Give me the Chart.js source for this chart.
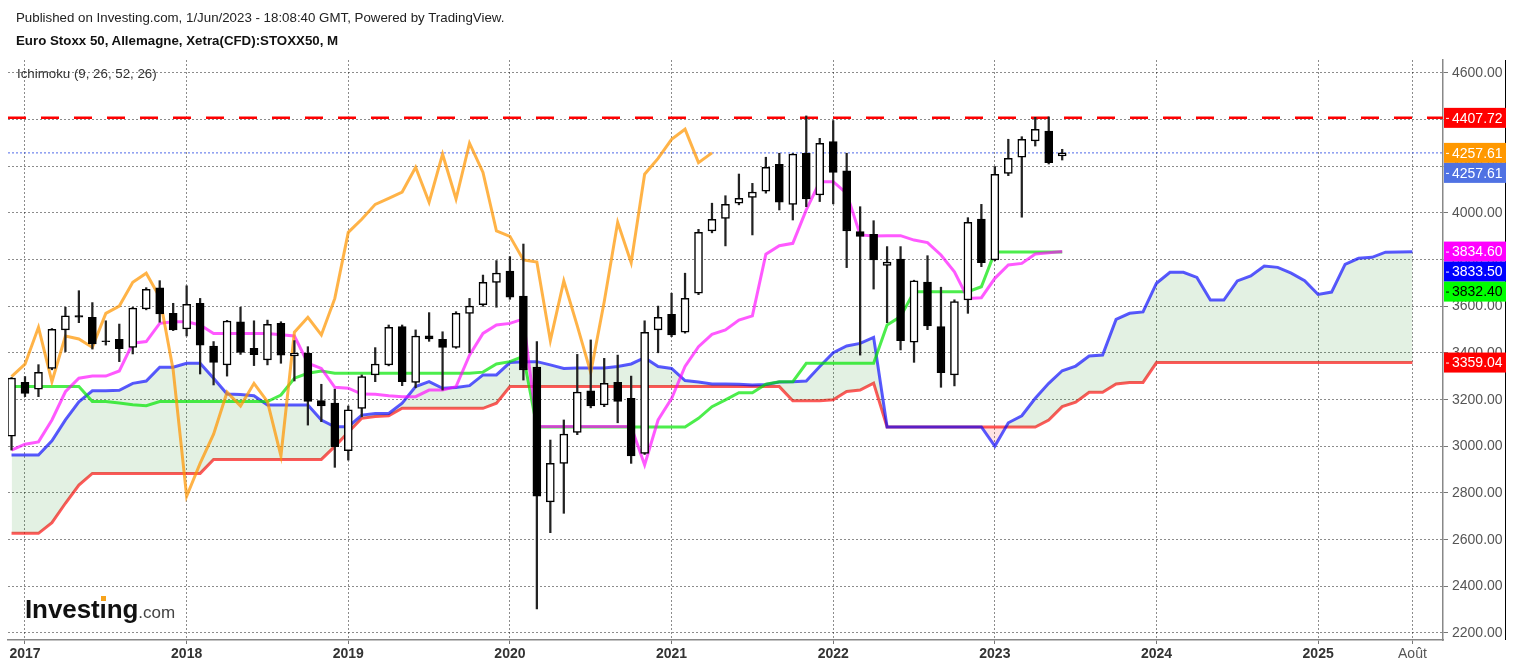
<!DOCTYPE html>
<html>
<head>
<meta charset="utf-8">
<title>Euro Stoxx 50 - Ichimoku</title>
<script src="https://cdn.jsdelivr.net/npm/chart.js@4.4.0/dist/chart.umd.min.js"></script>
<style>
  body { margin: 0; background: #fff; font-family: "Liberation Sans", Arial, sans-serif; }
  #wrap { position: relative; width: 1513px; height: 668px; overflow: hidden; }
  #chart { position: absolute; left: 0; top: 0; }
  .txt { position: absolute; white-space: nowrap; color: #222; line-height: 1; font-size: 13.3px; }
  .logo { position: absolute; left: 25px; top: 596px; white-space: nowrap; color: #111; font-size: 26px; line-height: 1; }
  .logo b { font-size: 26px; letter-spacing: -0.1px; font-weight: bold; }
  .logo .com { font-size: 17px; color: #444; }
  .logo .i { position: relative; }
  .logo .dot { position: absolute; left: 1.5px; top: 2px; width: 4.5px; height: 4.5px; background: #f7a31c; }
</style>
</head>
<body>
<div id="wrap">
  <canvas id="chart" width="1513" height="668"></canvas>
  <div class="txt" style="left:16px;top:11px;">Published on Investing.com, 1/Jun/2023 - 18:08:40 GMT, Powered by TradingView.</div>
  <div class="txt" style="left:16px;top:34px;font-weight:bold;color:#111;">Euro Stoxx 50, Allemagne, Xetra(CFD):STOXX50, M</div>
  <div class="txt" style="left:17px;top:67px;color:#333;">Ichimoku (9, 26, 52, 26)</div>
  <div class="logo"><b>Invest<span class="i">ı<span class="dot"></span></span>ng</b><span class="com">.com</span></div>
</div>
<script>
// monthly candles, Dec 2016 .. Jun 2023 (index 0 = Dec 2016)
const opens = [3044, 3274, 3245, 3334, 3499, 3560, 3553, 3452, 3459, 3424, 3589, 3679,
  3570, 3503, 3613, 3430, 3349, 3534, 3420, 3370, 3527, 3387, 3399, 3196,
  3185, 2981, 3163, 3306, 3349, 3513, 3274, 3474, 3459, 3424, 3570, 3607,
  3703, 3751, 3644, 3340, 2762, 2927, 3060, 3238, 3177, 3274, 3206, 2970,
  3499, 3566, 3489, 3656, 3923, 3977, 4042, 4067, 4094, 4209, 4037, 4256,
  4077, 4306, 4181, 3920, 3909, 3775, 3802, 3446, 3704, 3513, 3306, 3627,
  3974, 3799, 4170, 4239, 4309, 4351, 4245];
const highs = [3295, 3299, 3350, 3505, 3596, 3667, 3616, 3538, 3524, 3596, 3680, 3710,
  3613, 3688, 3634, 3449, 3540, 3596, 3538, 3541, 3534, 3453, 3427, 3266,
  3245, 3173, 3306, 3423, 3520, 3520, 3499, 3573, 3491, 3577, 3634, 3734,
  3796, 3813, 3867, 3449, 3027, 3113, 3394, 3456, 3377, 3391, 3301, 3538,
  3601, 3656, 3742, 3930, 4042, 4074, 4167, 4127, 4239, 4256, 4255, 4416,
  4320, 4396, 4256, 4027, 3967, 3856, 3856, 3712, 3817, 3682, 3628, 3980,
  4037, 4199, 4316, 4327, 4410, 4412, 4273];
const lows = [2984, 3213, 3213, 3328, 3406, 3530, 3417, 3434, 3363, 3396, 3585, 3532,
  3496, 3473, 3310, 3263, 3301, 3394, 3346, 3349, 3356, 3280, 3091, 3106,
  2910, 2941, 3127, 3277, 3345, 3260, 3251, 3450, 3241, 3420, 3401, 3600,
  3596, 3630, 3284, 2303, 2630, 2713, 3050, 3165, 3170, 3101, 2927, 2965,
  3401, 3470, 3485, 3650, 3915, 3859, 4035, 3906, 4085, 4013, 3970, 4027,
  4049, 4039, 3766, 3391, 3674, 3530, 3413, 3360, 3500, 3253, 3259, 3570,
  3770, 3795, 4160, 3982, 4287, 4210, 4227];
const closes = [3292, 3227, 3317, 3501, 3559, 3554, 3439, 3449, 3419, 3592, 3673, 3568,
  3499, 3609, 3434, 3360, 3537, 3402, 3393, 3523, 3391, 3399, 3192, 3173,
  2999, 3156, 3299, 3352, 3510, 3277, 3473, 3460, 3424, 3570, 3601, 3703,
  3742, 3639, 3327, 2786, 2927, 3052, 3232, 3173, 3270, 3192, 2959, 3489,
  3553, 3477, 3634, 3917, 3973, 4037, 4063, 4090, 4196, 4046, 4252, 4060,
  4299, 4174, 3923, 3900, 3799, 3790, 3453, 3709, 3516, 3316, 3620, 3960,
  3787, 4166, 4234, 4316, 4359, 4216, 4257.61];

// Ichimoku lines
const tenkan = [2984, 3009, 3019, 3113, 3234, 3292, 3301, 3301, 3323, 3442, 3449, 3527,
  3534, 3534, 3520, 3484, 3484, 3484, 3484, 3484, 3478, 3473, 3356, 3334,
  3253, 3249, 3224, 3223, 3217, 3213, 3213, 3241, 3241, 3256, 3391, 3484,
  3520, 3527, 3546, 3085, 3085, 3085, 3085, 3085, 3085, 3085, 3085, 2920,
  3113, 3205, 3342, 3427, 3480, 3499, 3541, 3559, 3823, 3860, 3870, 4013,
  4134, 4134, 4084, 3906, 3901, 3903, 3903, 3884, 3873, 3820, 3748, 3634,
  3637, 3720, 3777, 3784, 3824, 3830, 3834.60];
const kijun = [3256, 3256, 3256, 3256, 3256, 3256, 3192, 3192, 3186, 3178, 3174, 3192,
  3192, 3192, 3192, 3192, 3192, 3192, 3192, 3192, 3220, 3292, 3313, 3323,
  3313, 3313, 3313, 3313, 3313, 3313, 3313, 3313, 3313, 3313, 3313, 3318,
  3353, 3363, 3386, 3083, 3083, 3083, 3083, 3083, 3083, 3083, 3083, 3083,
  3083, 3083, 3083, 3120, 3170, 3199, 3230, 3230, 3266, 3277, 3277, 3356,
  3356, 3356, 3356, 3356, 3356, 3520, 3556, 3663, 3663, 3663, 3663, 3663,
  3684, 3832.40, 3832.40, 3832.40, 3832.40, 3832.40, 3832.40];
// leading spans run 26 months past the last candle (to Aug 2025)
const spanA = [2963, 2963, 2963, 3024, 3113, 3191, 3238, 3238, 3240, 3270, 3280, 3339,
  3339, 3356, 3356, 3292, 3224, 3222, 3217, 3177, 3177, 3177, 3177, 3113,
  3084, 3084, 3134, 3141, 3141, 3185, 3256, 3277, 3249, 3252, 3260, 3306,
  3306, 3359, 3363, 3363, 3349, 3334, 3336, 3336, 3336, 3342, 3353, 3380,
  3342, 3334, 3282, 3276, 3267, 3267, 3266, 3263, 3265, 3276, 3277, 3280,
  3342, 3401, 3430, 3441, 3467, 3083, 3083, 3083, 3083, 3083, 3083, 3083,
  3083, 3001, 3101, 3131, 3206, 3270, 3324, 3344, 3387, 3391, 3544, 3570,
  3576, 3699, 3746, 3746, 3724, 3627, 3627, 3709, 3730, 3773, 3767, 3742,
  3710, 3651, 3661, 3780, 3806, 3810, 3832, 3833, 3833.50];
const spanB = [2627, 2627, 2627, 2673, 2756, 2834, 2884, 2884, 2884, 2884, 2884, 2884,
  2884, 2884, 2884, 2944, 2944, 2944, 2944, 2944, 2944, 2944, 2944, 2944,
  3000, 3060, 3120, 3128, 3131, 3163, 3163, 3163, 3163, 3163, 3163, 3163,
  3185, 3256, 3256, 3256, 3256, 3256, 3256, 3256, 3256, 3256, 3256, 3256,
  3256, 3256, 3256, 3256, 3256, 3256, 3256, 3256, 3256, 3256, 3195, 3195,
  3195, 3200, 3235, 3241, 3271, 3083, 3083, 3083, 3083, 3083, 3083, 3083,
  3083, 3083, 3083, 3083, 3083, 3113, 3170, 3189, 3232, 3232, 3267, 3274,
  3274, 3359.04, 3359.04, 3359.04, 3359.04, 3359.04, 3359.04, 3359.04, 3359.04, 3359.04, 3359.04, 3359.04,
  3359.04, 3359.04, 3359.04, 3359.04, 3359.04, 3359.04, 3359.04, 3359.04, 3359.04];
// lagging span = closes drawn 26 months back
const chikou = closes.slice(26);
const resistance = 4407.72;

// x axis: month index, ticks at each January plus August 2025
const tickIdx = [1, 13, 25, 37, 49, 61, 73, 85, 97, 104];
const tickLabels = ['2017', '2018', '2019', '2020', '2021', '2022', '2023', '2024', '2025', 'Août'];
const yTicks = [2200, 2400, 2600, 2800, 3000, 3200, 3400, 3600, 3800, 4000, 4200, 4400, 4600];

const months = [];
for (let k = 0; k < spanA.length; k++) {
  const d = new Date(2016, 11 + k, 1);
  months.push(d.getFullYear() + '-' + String(d.getMonth() + 1).padStart(2, '0'));
}

const pts = arr => arr.map((v, i) => ({ x: i, y: v }));
const xMin = -0.262, xMax = 106.27;

const bodies = opens.map((o, i) => ({ x: i, y: [o, closes[i]] }));
const wicks = opens.map((o, i) => ({ x: i, y: [lows[i], highs[i]] }));
const bodyFill = opens.map((o, i) => closes[i] < o ? '#000' : '#fff');

const last = a => a[a.length - 1];
const tags = [
  { value: resistance, bg: '#ff0000', fg: '#fff' },
  { value: last(chikou), bg: '#ff9800', fg: '#fff' },
  { value: last(closes), bg: '#4f72e3', fg: '#fff' },
  { value: last(tenkan), bg: '#ff00ff', fg: '#fff' },
  { value: last(spanA), bg: '#0000ff', fg: '#fff' },
  { value: last(kijun), bg: '#00ff00', fg: '#000' },
  { value: last(spanB), bg: '#ff0000', fg: '#fff' }
];

const axisTags = {
  id: 'axisTags',
  afterDraw(chart) {
    const { ctx, chartArea, scales: { y } } = chart;
    ctx.save();
    ctx.strokeStyle = '#000';
    ctx.lineWidth = 1;
    ctx.beginPath();
    ctx.moveTo(1505.5, chartArea.top);
    ctx.lineTo(1505.5, chartArea.bottom);
    ctx.stroke();
    ctx.font = '14px "Liberation Sans", Arial, sans-serif';
    ctx.textBaseline = 'middle';
    let prevBottom = -Infinity;
    tags.forEach(t => {
      const top = Math.max(y.getPixelForValue(t.value) - 10, prevBottom);
      ctx.fillStyle = t.bg;
      ctx.fillRect(chartArea.right + 1, top, 62, 20);
      ctx.strokeStyle = t.fg;
      ctx.beginPath();
      ctx.moveTo(chartArea.right + 3, top + 10.5);
      ctx.lineTo(chartArea.right + 6, top + 10.5);
      ctx.stroke();
      ctx.fillStyle = t.fg;
      ctx.fillText(t.value.toFixed(2), chartArea.right + 9, top + 11);
      prevBottom = top + 20;
    });
    ctx.restore();
  }
};

const lineDs = (label, data, color, order) => ({
  type: 'line', label, data, borderColor: color, borderWidth: 3,
  pointRadius: 0, tension: 0, fill: false, order
});

const datasets = [
  { type: 'bar', label: 'body', data: bodies, backgroundColor: bodyFill, borderColor: '#000',
    borderWidth: 1.5, borderSkipped: false, barThickness: 8, grouped: false, order: 0 },
  { type: 'bar', label: 'wick', data: wicks, backgroundColor: '#222', borderWidth: 0,
    barThickness: 1.6, grouped: false, order: 1 },
  lineDs('Chikou', pts(chikou), 'rgba(255,150,0,0.72)', 2),
  lineDs('Tenkan', pts(tenkan), 'rgba(255,0,255,0.65)', 3),
  lineDs('Kijun', pts(kijun), 'rgba(0,230,0,0.7)', 4),
  Object.assign(lineDs('Senkou A', pts(spanA), 'rgba(0,0,255,0.65)', 5),
    { fill: { target: 6, above: 'rgba(0,128,0,0.11)', below: 'rgba(255,0,0,0.11)' } }),
  lineDs('Senkou B', pts(spanB), 'rgba(255,0,0,0.65)', 6),
  { type: 'line', label: 'resistance', data: [{ x: xMin, y: resistance }, { x: xMax, y: resistance }],
    borderColor: '#ff0000', borderWidth: 2.5, borderDash: [18, 15], pointRadius: 0, order: 2 },
  { type: 'line', label: 'last', data: [{ x: xMin, y: last(closes) }, { x: xMax, y: last(closes) }],
    borderColor: 'rgba(60,90,230,0.9)', borderWidth: 1, borderDash: [2, 2], pointRadius: 0, order: 7 }
];

const gridColor = 'rgba(0,0,0,0.45)';

new Chart(document.getElementById('chart'), {
  type: 'line',
  data: { labels: months, datasets },
  options: {
    responsive: false,
    animation: false,
    events: [],
    layout: { padding: { left: 8, top: 60, right: 0, bottom: 0 } },
    plugins: { legend: { display: false }, tooltip: { enabled: false } },
    scales: {
      x: {
        type: 'linear', min: xMin, max: xMax, offset: false,
        afterFit: s => { s.height = 28; },
        afterBuildTicks: s => { s.ticks = tickIdx.map(v => ({ value: v })); },
        grid: { color: gridColor, lineWidth: 1, offset: false, tickLength: 4, tickColor: '#777', tickBorderDash: [] },
        border: { display: true, color: '#888', width: 1.5, dash: [2, 2] },
        ticks: {
          autoSkip: false, maxRotation: 0, padding: 2,
          callback: (v, i) => tickLabels[i],
          font: ctx => ctx.index < 9
            ? { family: '"Liberation Sans", Arial, sans-serif', size: 14, weight: 'bold' }
            : { family: '"Liberation Sans", Arial, sans-serif', size: 14 },
          color: ctx => ctx.index < 9 ? '#333' : '#555'
        }
      },
      y: {
        type: 'linear', position: 'right', min: 2170, max: 4655.7,
        afterFit: s => { s.width = 70; },
        afterBuildTicks: s => { s.ticks = yTicks.map(v => ({ value: v })); },
        grid: { color: gridColor, lineWidth: 1, tickLength: 5, tickColor: '#777', tickBorderDash: [] },
        border: { display: true, color: '#888', width: 1.5, dash: [2, 2] },
        ticks: {
          padding: 4,
          callback: v => v.toFixed(2),
          font: { family: '"Liberation Sans", Arial, sans-serif', size: 14 },
          color: '#555'
        }
      }
    }
  },
  plugins: [axisTags]
});
</script>
</body>
</html>
